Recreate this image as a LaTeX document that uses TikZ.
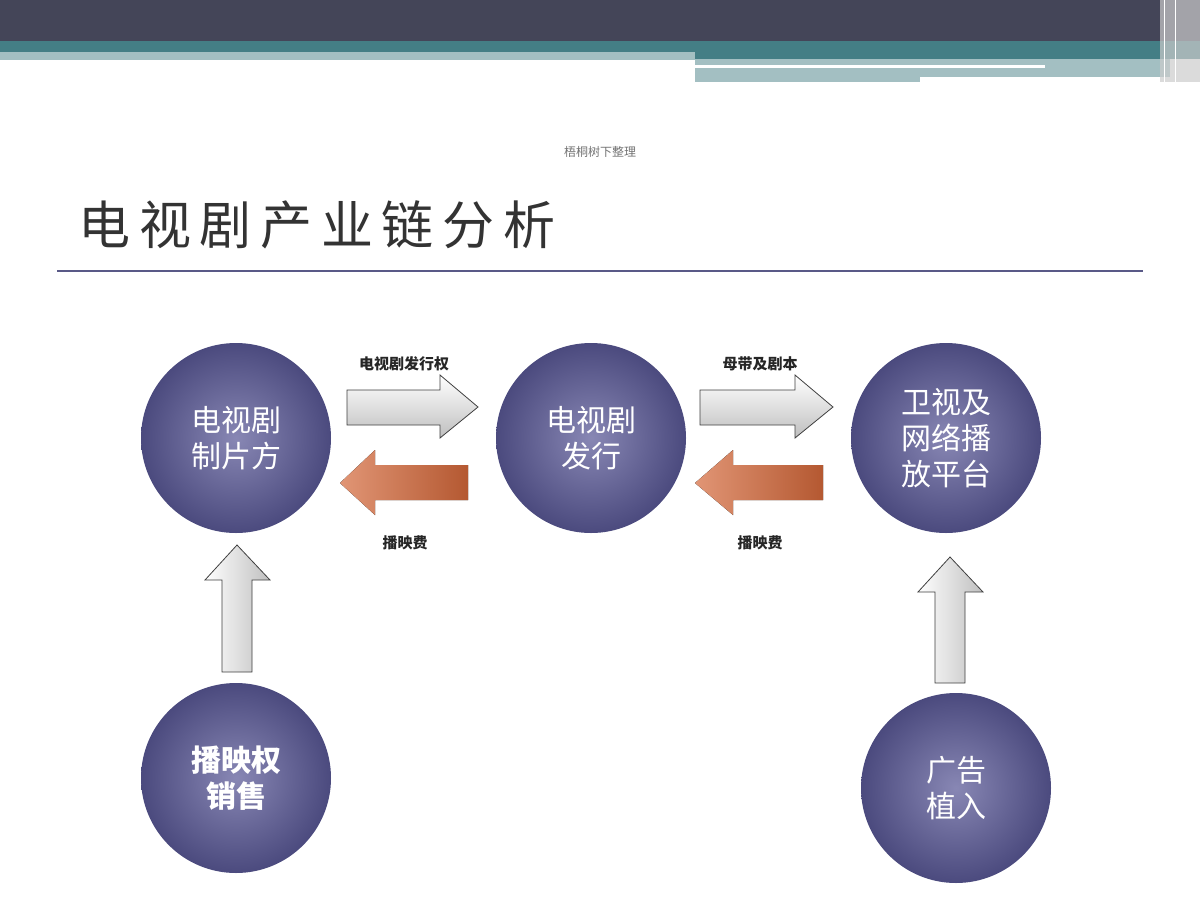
\documentclass[tikz,border=0pt]{standalone}
\usepackage{fontspec}
\newfontfamily\cjk{Noto Sans CJK SC}
\usetikzlibrary{shapes.arrows}
\definecolor{dark}{HTML}{444558}
\definecolor{teal1}{HTML}{447E85}
\definecolor{lite}{HTML}{A3BFC2}
\definecolor{ring}{HTML}{4B4A7E}
\definecolor{core}{HTML}{8887B4}
\definecolor{orng}{HTML}{D4683A}
\tikzset{
  ball/.style={circle,minimum size=190pt,inner color=core,outer color=ring,text=white,align=center,font=\cjk\fontsize{30pt}{36pt}\selectfont},
  grayarrow/.style={draw=black!75,line width=0.8pt,top color=white,bottom color=black!25},
  orarrow/.style={draw=none,left color=orng!70!white,right color=orng!85!black},
  lbl/.style={font=\cjk\bfseries\fontsize{15pt}{18pt}\selectfont,text=black!85}
}
\begin{document}
\begin{tikzpicture}[x=1pt,y=-1pt]
\useasboundingbox (0,0) rectangle (1200,900);
\fill[white] (0,0) rectangle (1200,900);
% top bars
\fill[dark] (0,0) rectangle (1200,41);
\fill[teal1] (0,41) rectangle (1200,59);
\fill[lite] (0,52) rectangle (695,60);
\fill[lite] (695,59) rectangle (1170,82);
\fill[white] (695,65) rectangle (1045,68);
\fill[white] (920,77) rectangle (1170,82);
\fill[black!20,opacity=.7] (1160,0) rectangle (1200,82);
\draw[white,line width=1pt] (1164,0)--(1164,82);
\draw[white,line width=1pt] (1175,0)--(1175,82);
% watermark & title
\node[font=\cjk\fontsize{12pt}{14pt}\selectfont,text=black!55] (wm) at (600,152) {梧桐树下整理};
\node[anchor=west,font=\cjk\fontsize{52pt}{60pt}\selectfont,text=black!80] (title) at (75,225) {电\,视\,剧\,产\,业\,链\,分\,析};
\draw[draw=black!40!blue!30!gray,line width=1.2pt] (57,271) -- (1143,271);
% circles
\node[ball] (a) at (236,438) {电视剧\\制片方};
\node[ball] (b) at (591,438) {电视剧\\发行};
\node[ball] (c) at (946,438) {卫视及\\网络播\\放平台};
\node[ball,font=\cjk\bfseries\fontsize{30pt}{36pt}\selectfont] (d) at (236,778) {播映权\\销售};
\node[ball] (e) at (956,788) {广告\\植入};
% horizontal arrows
\draw[grayarrow] (347,390) -- (440,390) -- (440,375) -- (478,407) -- (440,438) -- (440,425) -- (347,425) -- cycle;
\draw[grayarrow] (700,390) -- (795,390) -- (795,375) -- (833,407) -- (795,438) -- (795,425) -- (700,425) -- cycle;
\fill[orarrow] (468,465) -- (375,465) -- (375,450) -- (340,483) -- (375,515) -- (375,500) -- (468,500) -- cycle;
\fill[orarrow] (823,465) -- (733,465) -- (733,450) -- (695,483) -- (733,515) -- (733,500) -- (823,500) -- cycle;
% vertical arrows
\draw[grayarrow,left color=white,right color=black!25] (222,672) -- (222,580) -- (205,580) -- (237,545) -- (270,580) -- (252,580) -- (252,672) -- cycle;
\draw[grayarrow,left color=white,right color=black!25] (935,683) -- (935,592) -- (918,592) -- (950,557) -- (983,592) -- (965,592) -- (965,683) -- cycle;
% labels
\node[lbl] (l1) at (404,364) {电视剧发行权};
\node[lbl] (l2) at (760,364) {母带及剧本};
\node[lbl] (l3) at (405,543) {播映费};
\node[lbl] (l4) at (760,543) {播映费};
\end{tikzpicture}
\end{document}
